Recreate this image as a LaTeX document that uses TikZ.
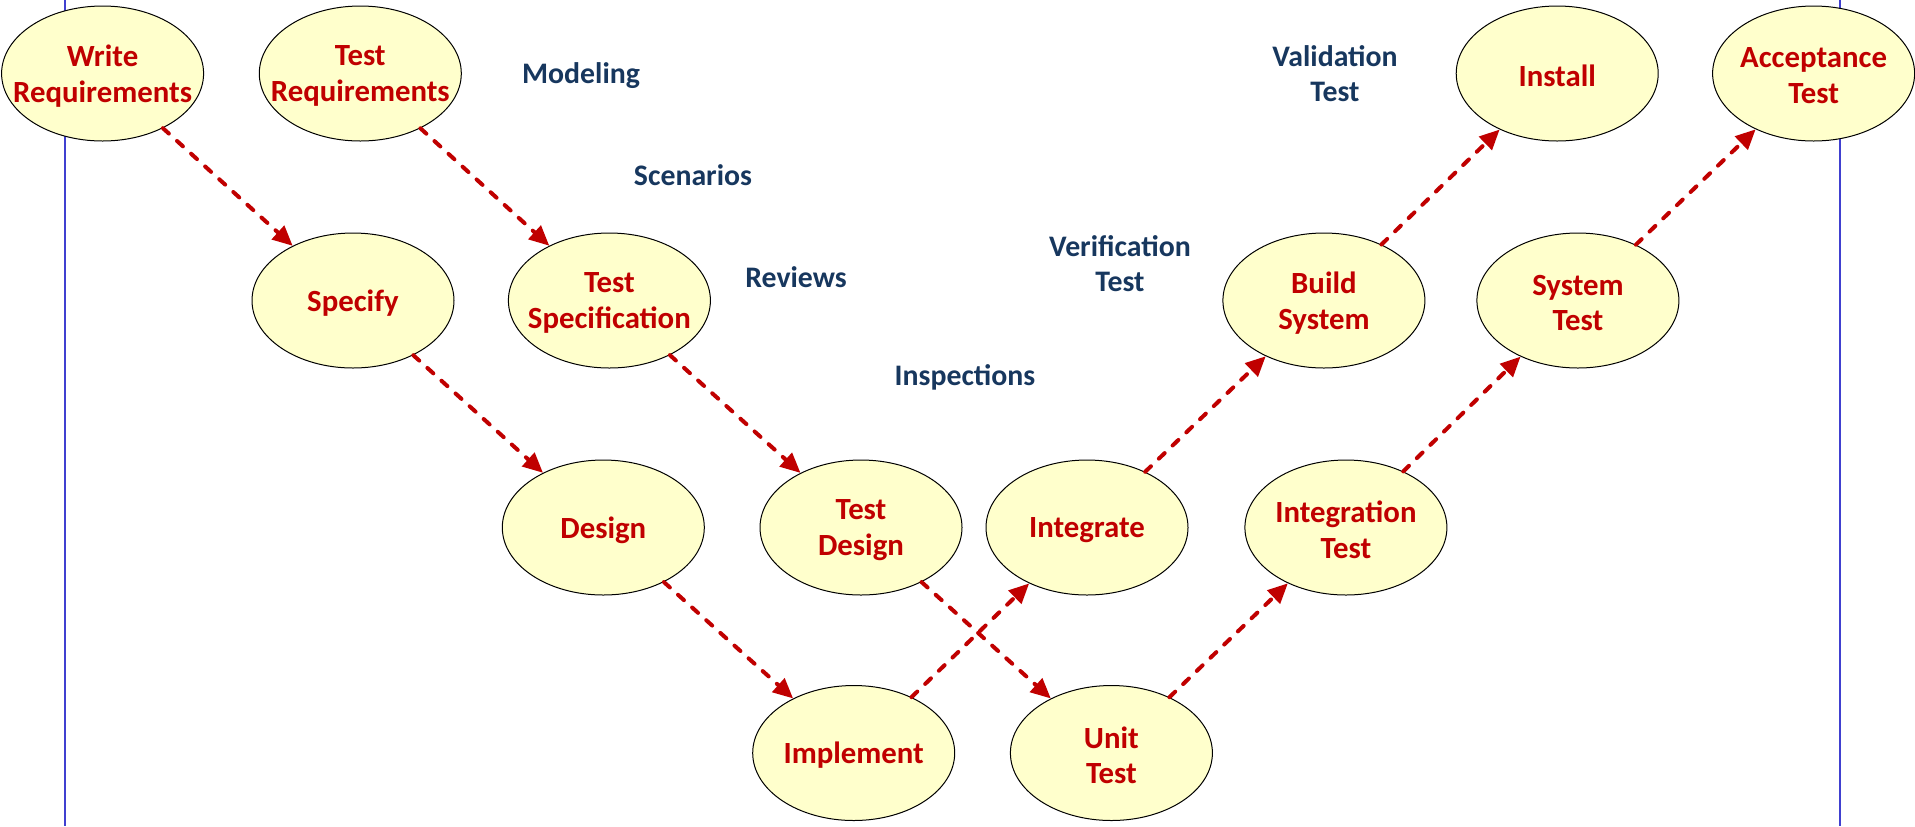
\documentclass[tikz,border=0pt]{standalone}
\usepackage{fontspec}
\setmainfont{Carlito}
\usetikzlibrary{shapes.geometric,arrows.meta}
\definecolor{fillY}{HTML}{FFFFCC}
\definecolor{redT}{HTML}{C00000}
\definecolor{navyT}{HTML}{17375E}
\definecolor{blueL}{HTML}{4040D0}
\begin{document}
\begin{tikzpicture}[x=0.5pt,y=-0.5pt,
 phase/.style={ellipse, draw=black, line width=0.5pt, fill=fillY,
   minimum width=101pt, minimum height=67.5pt, inner sep=0pt},
 ptxt/.style={align=center, text=redT, inner sep=0pt, yshift=-1.2pt,
   font=\fontsize{15.4}{17.8}\selectfont\bfseries},
 lbl/.style={align=center, text=navyT, inner sep=0pt,
   font=\fontsize{14.9}{17.5}\selectfont\bfseries},
 flow/.style={draw=redT, line width=2pt, line cap=round, dash pattern=on 4pt off 5.5pt,
   -{Triangle[length=10pt,width=9pt]}},
 border/.style={draw=blueL, line width=0.75pt}]
\useasboundingbox (0,0) rectangle (1915,826);
% side lines
\coordinate (lt) at (65,0); \coordinate (lb) at (65,826);
\coordinate (rt) at (1840,0); \coordinate (rb) at (1840,826);
\draw[border] (lt) -- (lb);
\draw[border] (rt) -- (rb);
% phases
\node[phase, label={[ptxt]center:Write\\Requirements}] (wr) at (102.6,73.5) {};
\node[phase, label={[ptxt]center:Test\\Requirements}] (tr) at (360.3,73.5) {};
\node[phase, label={[ptxt]center:Specify}] (sp) at (353,300.5) {};
\node[phase, label={[ptxt]center:Test\\Specification}] (ts) at (609.4,300.5) {};
\node[phase, label={[ptxt]center:Design}] (de) at (603.3,527.5) {};
\node[phase, label={[ptxt]center:Test\\Design}] (td) at (861,527.5) {};
\node[phase, label={[ptxt]center:Integrate}] (ig) at (1087,527.5) {};
\node[phase, label={[ptxt]center:Integration\\Test}] (it) at (1345.9,527.5) {};
\node[phase, label={[ptxt]center:Implement}] (im) at (853.7,753) {};
\node[phase, label={[ptxt]center:Unit\\Test}] (ut) at (1111.4,753) {};
\node[phase, label={[ptxt]center:Build\\System}] (bs) at (1323.9,300.5) {};
\node[phase, label={[ptxt]center:System\\Test}] (st) at (1577.9,300.5) {};
\node[phase, label={[ptxt]center:Install}] (in) at (1557.2,73.5) {};
\node[phase, label={[ptxt]center:Acceptance\\Test}] (ac) at (1813.6,73.5) {};
% labels
\node[lbl] (mo) at (581,76) {Modeling};
\node[lbl] (sc) at (693,175) {Scenarios};
\node[lbl] (rv) at (796,277) {Reviews};
\node[lbl] (ins) at (965,377) {Inspections};
\node[lbl] (ve) at (1120,264) {Verification\\Test};
\node[lbl] (va) at (1335,74) {Validation\\Test};
% flows
\draw[flow] (wr) -- (sp);
\draw[flow] (tr) -- (ts);
\draw[flow] (sp) -- (de);
\draw[flow] (ts) -- (td);
\draw[flow] (de) -- (im);
\draw[flow] (td) -- (ut);
\draw[flow] (im) -- (ig);
\draw[flow] (ig) -- (bs);
\draw[flow] (bs) -- (in);
\draw[flow] (ut) -- (it);
\draw[flow] (it) -- (st);
\draw[flow] (st) -- (ac);
\end{tikzpicture}
\end{document}
